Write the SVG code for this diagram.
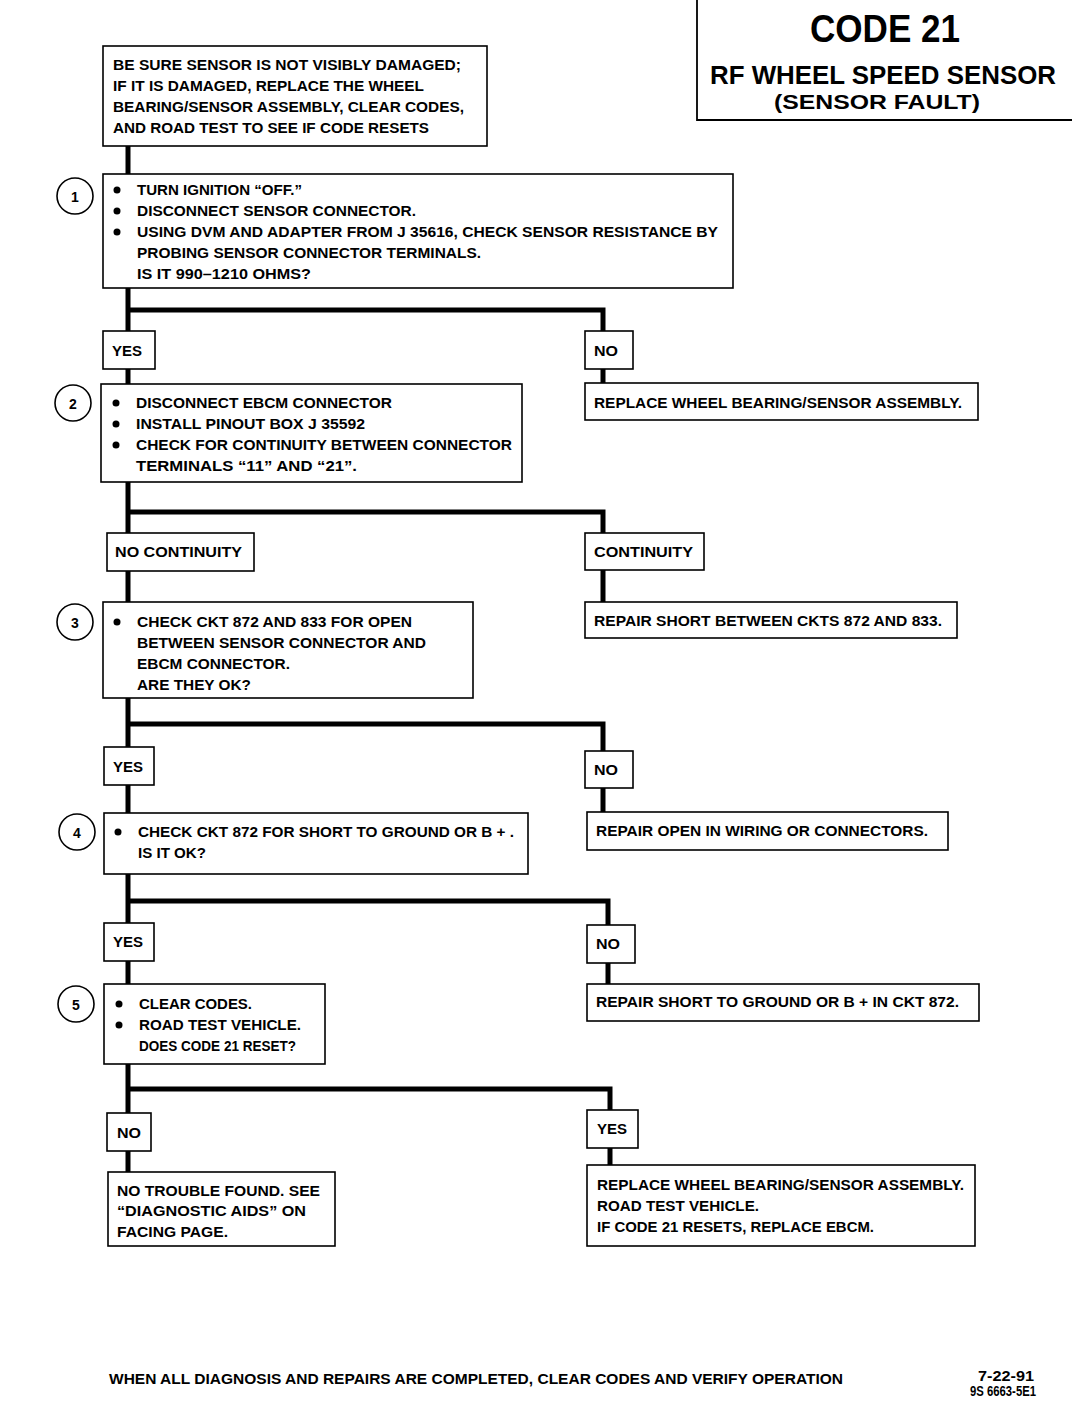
<svg xmlns="http://www.w3.org/2000/svg" width="1072" height="1408" viewBox="0 0 1072 1408">
<style>
.bg{fill:#fff}
.box{fill:#fff;stroke:#000;stroke-width:1.6}
.circ{fill:#fff;stroke:#000;stroke-width:1.6}
.t{font-family:"Liberation Sans",Arial,sans-serif;font-weight:bold;font-size:14.5px;fill:#000;dominant-baseline:central}
.num{font-family:"Liberation Sans",Arial,sans-serif;font-weight:bold;font-size:14px;fill:#000;text-anchor:middle;dominant-baseline:central}
.title{font-family:"Liberation Sans",Arial,sans-serif;font-weight:bold;fill:#000;text-anchor:middle}
.b{fill:#000}
.conn{fill:none;stroke:#000;stroke-width:5;stroke-linejoin:miter}
</style>
<rect class="bg" x="0" y="0" width="1072" height="1408"/>

<g id="connectors">
<path class="conn" d="M128,146 V174"/>
<path class="conn" d="M128,288 V384 M128,310 H603 V384"/>
<path class="conn" d="M128,482 V602 M128,512 H603 V602"/>
<path class="conn" d="M128,698 V813 M128,724 H603 V812"/>
<path class="conn" d="M128,874 V984 M128,901 H608 V984"/>
<path class="conn" d="M128,1064 V1172 M128,1089 H610 V1165"/>
</g>

<g id="title">
<path d="M697,0 V120 H1072" fill="none" stroke="#000" stroke-width="1.8"/>
<text class="title" x="885" y="42" font-size="38" textLength="150" lengthAdjust="spacingAndGlyphs">CODE 21</text>
<text class="title" x="883" y="84" font-size="25" textLength="346" lengthAdjust="spacingAndGlyphs">RF WHEEL SPEED SENSOR</text>
<text class="title" x="877" y="109" font-size="21" textLength="206" lengthAdjust="spacingAndGlyphs">(SENSOR FAULT)</text>
</g>

<g id="start">
<rect class="box" x="103" y="46" width="384" height="100"/>
<text class="t" x="113" y="65" textLength="348" lengthAdjust="spacingAndGlyphs">BE SURE SENSOR IS NOT VISIBLY DAMAGED;</text>
<text class="t" x="113" y="86" textLength="311" lengthAdjust="spacingAndGlyphs">IF IT IS DAMAGED, REPLACE THE WHEEL</text>
<text class="t" x="113" y="107" textLength="351" lengthAdjust="spacingAndGlyphs">BEARING/SENSOR ASSEMBLY, CLEAR CODES,</text>
<text class="t" x="113" y="128" textLength="316" lengthAdjust="spacingAndGlyphs">AND ROAD TEST TO SEE IF CODE RESETS</text>
</g>

<g id="step1">
<circle class="circ" cx="75" cy="196" r="18"/>
<text class="num" x="75" y="197">1</text>
<rect class="box" x="103" y="174" width="630" height="114"/>
<circle class="b" cx="117" cy="190" r="3.5"/>
<circle class="b" cx="117" cy="211" r="3.5"/>
<circle class="b" cx="117" cy="232" r="3.5"/>
<text class="t" x="137" y="190" textLength="165" lengthAdjust="spacingAndGlyphs">TURN IGNITION “OFF.”</text>
<text class="t" x="137" y="211" textLength="279" lengthAdjust="spacingAndGlyphs">DISCONNECT SENSOR CONNECTOR.</text>
<text class="t" x="137" y="232" textLength="581" lengthAdjust="spacingAndGlyphs">USING DVM AND ADAPTER FROM J 35616, CHECK SENSOR RESISTANCE BY</text>
<text class="t" x="137" y="253" textLength="344" lengthAdjust="spacingAndGlyphs">PROBING SENSOR CONNECTOR TERMINALS.</text>
<text class="t" x="137" y="274" textLength="174" lengthAdjust="spacingAndGlyphs">IS IT 990–1210 OHMS?</text>
</g>

<g id="yes1">
<rect class="box" x="103" y="331" width="52" height="38"/>
<text class="t" x="112" y="351" textLength="30" lengthAdjust="spacingAndGlyphs">YES</text>
</g>
<g id="no1">
<rect class="box" x="585" y="331" width="48" height="38"/>
<text class="t" x="594" y="351" textLength="24" lengthAdjust="spacingAndGlyphs">NO</text>
</g>
<g id="replace1">
<rect class="box" x="585" y="383" width="393" height="37"/>
<text class="t" x="594" y="403" textLength="368" lengthAdjust="spacingAndGlyphs">REPLACE WHEEL BEARING/SENSOR ASSEMBLY.</text>
</g>

<g id="step2">
<circle class="circ" cx="73" cy="403" r="18"/>
<text class="num" x="73" y="404">2</text>
<rect class="box" x="101" y="384" width="421" height="98"/>
<circle class="b" cx="116" cy="403" r="3.5"/>
<circle class="b" cx="116" cy="424" r="3.5"/>
<circle class="b" cx="116" cy="445" r="3.5"/>
<text class="t" x="136" y="403" textLength="256" lengthAdjust="spacingAndGlyphs">DISCONNECT EBCM CONNECTOR</text>
<text class="t" x="136" y="424" textLength="229" lengthAdjust="spacingAndGlyphs">INSTALL PINOUT BOX J 35592</text>
<text class="t" x="136" y="445" textLength="376" lengthAdjust="spacingAndGlyphs">CHECK FOR CONTINUITY BETWEEN CONNECTOR</text>
<text class="t" x="136" y="466" textLength="221" lengthAdjust="spacingAndGlyphs">TERMINALS “11” AND “21”.</text>
</g>

<g id="nocont">
<rect class="box" x="107" y="533" width="147" height="38"/>
<text class="t" x="115" y="552" textLength="127" lengthAdjust="spacingAndGlyphs">NO CONTINUITY</text>
</g>
<g id="cont">
<rect class="box" x="585" y="533" width="119" height="37"/>
<text class="t" x="594" y="552" textLength="99" lengthAdjust="spacingAndGlyphs">CONTINUITY</text>
</g>
<g id="repairshort1">
<rect class="box" x="585" y="602" width="372" height="36"/>
<text class="t" x="594" y="621" textLength="348" lengthAdjust="spacingAndGlyphs">REPAIR SHORT BETWEEN CKTS 872 AND 833.</text>
</g>

<g id="step3">
<circle class="circ" cx="75" cy="622" r="18"/>
<text class="num" x="75" y="623">3</text>
<rect class="box" x="103" y="602" width="370" height="96"/>
<circle class="b" cx="117" cy="622" r="3.5"/>
<text class="t" x="137" y="622" textLength="275" lengthAdjust="spacingAndGlyphs">CHECK CKT 872 AND 833 FOR OPEN</text>
<text class="t" x="137" y="643" textLength="289" lengthAdjust="spacingAndGlyphs">BETWEEN SENSOR CONNECTOR AND</text>
<text class="t" x="137" y="664" textLength="153" lengthAdjust="spacingAndGlyphs">EBCM CONNECTOR.</text>
<text class="t" x="137" y="685" textLength="114" lengthAdjust="spacingAndGlyphs">ARE THEY OK?</text>
</g>

<g id="yes3">
<rect class="box" x="104" y="747" width="50" height="38"/>
<text class="t" x="113" y="767" textLength="30" lengthAdjust="spacingAndGlyphs">YES</text>
</g>
<g id="no3">
<rect class="box" x="585" y="751" width="48" height="37"/>
<text class="t" x="594" y="770" textLength="24" lengthAdjust="spacingAndGlyphs">NO</text>
</g>
<g id="repairopen">
<rect class="box" x="587" y="812" width="361" height="38"/>
<text class="t" x="596" y="831" textLength="332" lengthAdjust="spacingAndGlyphs">REPAIR OPEN IN WIRING OR CONNECTORS.</text>
</g>

<g id="step4">
<circle class="circ" cx="77" cy="832" r="18"/>
<text class="num" x="77" y="833">4</text>
<rect class="box" x="104" y="813" width="424" height="61"/>
<circle class="b" cx="118" cy="832" r="3.5"/>
<text class="t" x="138" y="832" textLength="376" lengthAdjust="spacingAndGlyphs">CHECK CKT 872 FOR SHORT TO GROUND OR B + .</text>
<text class="t" x="138" y="853" textLength="68" lengthAdjust="spacingAndGlyphs">IS IT OK?</text>
</g>

<g id="yes4">
<rect class="box" x="104" y="923" width="50" height="38"/>
<text class="t" x="113" y="942" textLength="30" lengthAdjust="spacingAndGlyphs">YES</text>
</g>
<g id="no4">
<rect class="box" x="587" y="925" width="48" height="38"/>
<text class="t" x="596" y="944" textLength="24" lengthAdjust="spacingAndGlyphs">NO</text>
</g>
<g id="repairshort2">
<rect class="box" x="587" y="984" width="392" height="37"/>
<text class="t" x="596" y="1002" textLength="363" lengthAdjust="spacingAndGlyphs">REPAIR SHORT TO GROUND OR B +  IN CKT 872.</text>
</g>

<g id="step5">
<circle class="circ" cx="76" cy="1004" r="18"/>
<text class="num" x="76" y="1005">5</text>
<rect class="box" x="104" y="984" width="221" height="80"/>
<circle class="b" cx="119" cy="1004" r="3.5"/>
<circle class="b" cx="119" cy="1025" r="3.5"/>
<text class="t" x="139" y="1004" textLength="113" lengthAdjust="spacingAndGlyphs">CLEAR CODES.</text>
<text class="t" x="139" y="1025" textLength="162" lengthAdjust="spacingAndGlyphs">ROAD TEST VEHICLE.</text>
<text class="t" x="139" y="1046" textLength="157" lengthAdjust="spacingAndGlyphs">DOES CODE 21 RESET?</text>
</g>

<g id="no5">
<rect class="box" x="107" y="1113" width="44" height="38"/>
<text class="t" x="117" y="1133" textLength="24" lengthAdjust="spacingAndGlyphs">NO</text>
</g>
<g id="yes5">
<rect class="box" x="587" y="1110" width="51" height="38"/>
<text class="t" x="597" y="1129" textLength="30" lengthAdjust="spacingAndGlyphs">YES</text>
</g>

<g id="notrouble">
<rect class="box" x="108" y="1172" width="227" height="74"/>
<text class="t" x="117" y="1191" textLength="203" lengthAdjust="spacingAndGlyphs">NO TROUBLE FOUND.  SEE</text>
<text class="t" x="117" y="1211" textLength="189" lengthAdjust="spacingAndGlyphs">“DIAGNOSTIC AIDS” ON</text>
<text class="t" x="117" y="1232" textLength="111" lengthAdjust="spacingAndGlyphs">FACING PAGE.</text>
</g>

<g id="replace2">
<rect class="box" x="587" y="1165" width="388" height="81"/>
<text class="t" x="597" y="1185" textLength="367" lengthAdjust="spacingAndGlyphs">REPLACE WHEEL BEARING/SENSOR ASSEMBLY.</text>
<text class="t" x="597" y="1206" textLength="162" lengthAdjust="spacingAndGlyphs">ROAD TEST VEHICLE.</text>
<text class="t" x="597" y="1227" textLength="277" lengthAdjust="spacingAndGlyphs">IF CODE 21 RESETS, REPLACE EBCM.</text>
</g>

<g id="footer">
<text class="t" x="109" y="1379" textLength="734" lengthAdjust="spacingAndGlyphs">WHEN ALL DIAGNOSIS AND REPAIRS ARE COMPLETED, CLEAR CODES AND VERIFY OPERATION</text>
<text class="t" x="978" y="1376" font-size="13" textLength="56" lengthAdjust="spacingAndGlyphs">7-22-91</text>
<text class="t" x="970" y="1391" font-size="13" textLength="66" lengthAdjust="spacingAndGlyphs">9S 6663-5E1</text>
</g>
</svg>
